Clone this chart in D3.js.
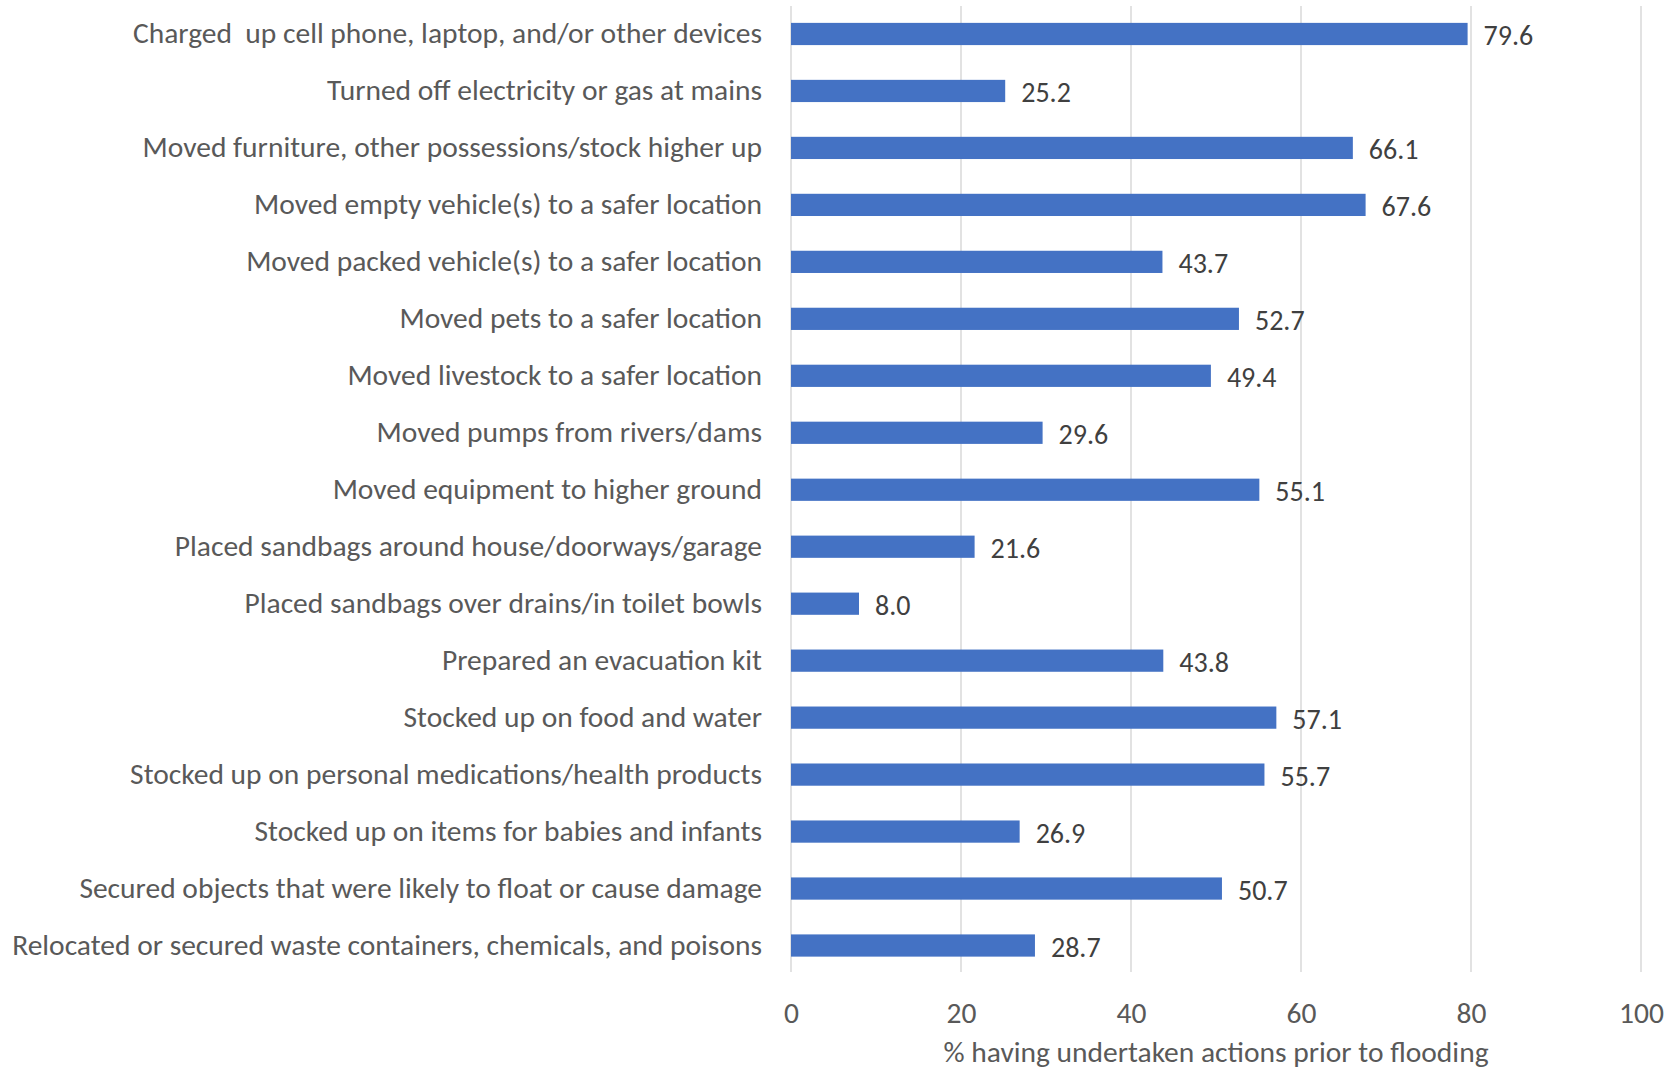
<!DOCTYPE html>
<html>
<head>
<meta charset="utf-8">
<script src="https://cdn.jsdelivr.net/npm/d3@7"></script>
<style>
  html, body { margin: 0; padding: 0; background: #ffffff; }
  svg { display: block; }
  text { font-family: Carlito, Lato, "Open Sans", sans-serif; }
</style>
</head>
<body>
<svg id="chart" width="1670" height="1069"></svg>
<script>
// Preparatory actions taken before the flood, % of respondents
const actions = [
  "Charged  up cell phone, laptop, and/or other devices",
  "Turned off electricity or gas at mains",
  "Moved furniture, other possessions/stock higher up",
  "Moved empty vehicle(s) to a safer location",
  "Moved packed vehicle(s) to a safer location",
  "Moved pets to a safer location",
  "Moved livestock to a safer location",
  "Moved pumps from rivers/dams",
  "Moved equipment to higher ground",
  "Placed sandbags around house/doorways/garage",
  "Placed sandbags over drains/in toilet bowls",
  "Prepared an evacuation kit",
  "Stocked up on food and water",
  "Stocked up on personal medications/health products",
  "Stocked up on items for babies and infants",
  "Secured objects that were likely to float or cause damage",
  "Relocated or secured waste containers, chemicals, and poisons"
];
const percentages = [79.6, 25.2, 66.1, 67.6, 43.7, 52.7, 49.4, 29.6, 55.1, 21.6, 8.0, 43.8, 57.1, 55.7, 26.9, 50.7, 28.7];
const xTicks = [0, 20, 40, 60, 80, 100];
const xTitle = "% having undertaken actions prior to flooding";

const data = actions.map((a, i) => ({ action: a, value: percentages[i] }));

const svg = d3.select("#chart");
const labelSize = 29.5;
const valueSize = 28;

const x = d3.scaleLinear().domain([0, 100]).range([791, 1641]);
const y = d3.scaleBand().domain(actions).range([5.5, 974]).paddingInner(0.61).paddingOuter(0.305);

// vertical gridlines
svg.append("g")
  .selectAll("line")
  .data(xTicks)
  .join("line")
  .attr("x1", d => x(d)).attr("x2", d => x(d))
  .attr("y1", 6).attr("y2", 972)
  .attr("stroke", "#d9d9d9")
  .attr("stroke-width", 1.5);

// bars
svg.append("g")
  .selectAll("rect")
  .data(data)
  .join("rect")
  .attr("x", x(0))
  .attr("y", d => y(d.action))
  .attr("width", d => x(d.value) - x(0))
  .attr("height", y.bandwidth())
  .attr("fill", "#4472c4");

// value labels
svg.append("g")
  .selectAll("text")
  .data(data)
  .join("text")
  .attr("x", d => x(d.value) + 16)
  .attr("y", d => y(d.action) + y.bandwidth() / 2 + 1.5)
  .attr("dy", "0.35em")
  .attr("font-size", valueSize)
  .attr("fill", "#404040")
  .text(d => d.value.toFixed(1));

// category axis labels
const yAxis = d3.axisLeft(y).tickSize(0).tickPadding(0);
const yg = svg.append("g").attr("transform", "translate(762,0)").call(yAxis);
yg.select(".domain").remove();
yg.selectAll("text")
  .attr("font-size", labelSize)
  .attr("fill", "#595959")
  .attr("dy", "0.32em")
  .style("white-space", "pre")
  .attr("font-family", null);

// value axis
const xAxis = d3.axisBottom(x).tickValues(xTicks).tickSize(0).tickPadding(0).tickFormat(d3.format("d"));
const xg = svg.append("g").attr("transform", "translate(0,1002)").call(xAxis);
xg.select(".domain").remove();
xg.selectAll("text")
  .attr("font-size", labelSize)
  .attr("fill", "#595959")
  .attr("font-family", null);

// axis title
svg.append("text")
  .attr("x", (x(0) + x(100)) / 2)
  .attr("y", 1062)
  .attr("text-anchor", "middle")
  .attr("font-size", labelSize)
  .attr("fill", "#595959")
  .text(xTitle);
</script>
</body>
</html>
